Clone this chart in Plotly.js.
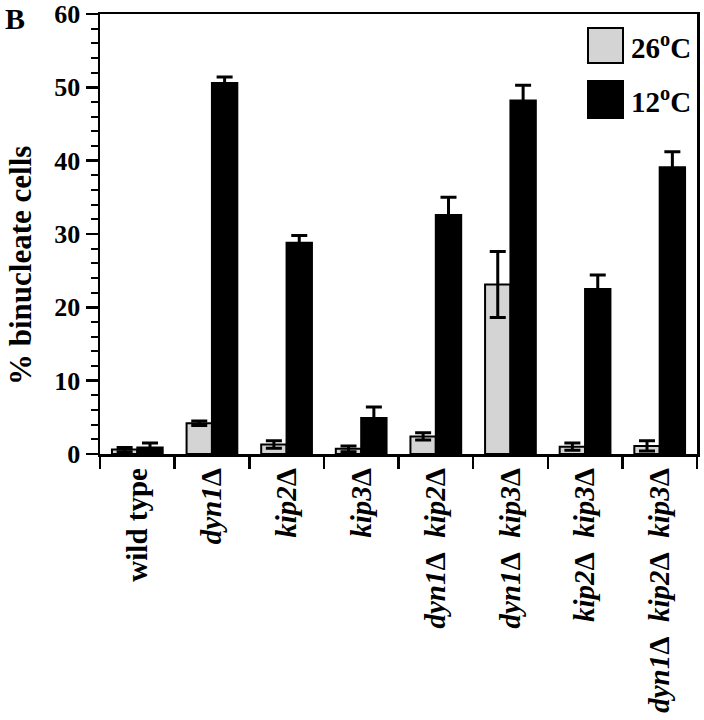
<!DOCTYPE html>
<html>
<head>
<meta charset="utf-8">
<script src="https://cdn.plot.ly/plotly-3.0.1.min.js"></script>
<style>html,body{margin:0;padding:0;background:#fff;}#chart{width:704px;height:720px;}</style>
</head>
<body>
<div id="chart"></div>
<script>
// Data
const categories = ["wild type", "dyn1Δ", "kip2Δ", "kip3Δ", "dyn1Δ kip2Δ", "dyn1Δ kip3Δ", "kip2Δ kip3Δ", "dyn1Δ kip2Δ kip3Δ"];
const tickLabels = [
  "wild type",
  "<i>dyn1</i>Δ",
  "<i>kip2</i>Δ",
  "<i>kip3</i>Δ",
  "<i>dyn1</i>Δ\u00a0\u00a0<i>kip2</i>Δ",
  "<i>dyn1</i>Δ\u00a0\u00a0<i>kip3</i>Δ",
  "<i>kip2</i>Δ\u00a0\u00a0<i>kip3</i>Δ",
  "<i>dyn1</i>Δ\u00a0\u00a0<i>kip2</i>Δ\u00a0\u00a0<i>kip3</i>Δ"
];
const values26 = [0.6, 4.2, 1.3, 0.7, 2.4, 23.1, 1.0, 1.1];
const errors26 = [0.3, 0.3, 0.5, 0.4, 0.5, 4.5, 0.5, 0.7];
const values12 = [0.9, 50.6, 28.8, 4.9, 32.6, 48.2, 22.5, 39.1];
const errors12 = [0.6, 0.8, 1.0, 1.5, 2.4, 2.1, 1.9, 2.1];
const seriesNames = ["26<sup>o</sup>C", "12<sup>o</sup>C"];
const yTickVals = [0, 10, 20, 30, 40, 50, 60];
const yTitle = "% binucleate cells";

const serif = "Liberation Serif, Times New Roman, serif";

const traces = [
  {
    type: "bar", name: seriesNames[0], x: categories, y: values26,
    marker: {color: "#d4d4d4", line: {color: "#000", width: 2}},
    error_y: {type: "data", array: errors26, visible: true, color: "#000", thickness: 3, width: 8}
  },
  {
    type: "bar", name: seriesNames[1], x: categories, y: values12,
    marker: {color: "#000", line: {color: "#000", width: 2}},
    error_y: {type: "data", array: errors12, visible: true, color: "#000", thickness: 3, width: 8}
  }
];

// plot area in pixels: x 100..697, y 14..454
const px = v => (v - 100) / 597;
const py = v => (454 - v) / 440;

const layout = {
  width: 704, height: 720,
  margin: {l: 100, r: 7, t: 14, b: 266},
  paper_bgcolor: "#fff", plot_bgcolor: "#fff",
  showlegend: false,
  barmode: "group", bargap: 0.32, bargroupgap: 0,
  font: {family: serif, color: "#000", weight: "bold"},
  xaxis: {
    type: "category", categoryorder: "array", categoryarray: categories,
    tickvals: categories, ticktext: tickLabels,
    range: [-0.5, 7.5], tickson: "boundaries",
    ticks: "outside", ticklen: 12, tickwidth: 2.5, tickcolor: "#000",
    tickangle: -90, tickfont: {family: serif, size: 29, color: "#000", weight: "bold"},
    showline: true, linecolor: "#000", linewidth: 2.5, mirror: true,
    showgrid: false, zeroline: false, fixedrange: true
  },
  yaxis: {
    range: [0, 60], tickvals: yTickVals, ticktext: yTickVals.map(String),
    ticks: "outside", ticklen: 12, tickwidth: 2.5, tickcolor: "#000",
    minor: {dtick: 2, ticks: "outside", ticklen: 7, tickwidth: 2, tickcolor: "#000", showgrid: false},
    tickfont: {family: serif, size: 26, color: "#000", weight: "bold"},
    showline: true, linecolor: "#000", linewidth: 2.5, mirror: true,
    showgrid: false, zeroline: false, fixedrange: true
  },
  shapes: [
    {type: "rect", xref: "paper", yref: "paper", x0: px(588), x1: px(623), y0: py(63), y1: py(28),
     fillcolor: "#d4d4d4", line: {color: "#000", width: 2}},
    {type: "rect", xref: "paper", yref: "paper", x0: px(588), x1: px(623), y0: py(118), y1: py(81),
     fillcolor: "#000", line: {color: "#000", width: 2}}
  ],
  annotations: [
    {xref: "paper", yref: "paper", x: px(629), y: py(46), xanchor: "left", yanchor: "middle",
     text: seriesNames[0], showarrow: false, font: {family: serif, size: 29, color: "#000", weight: "bold"}},
    {xref: "paper", yref: "paper", x: px(629), y: py(100), xanchor: "left", yanchor: "middle",
     text: seriesNames[1], showarrow: false, font: {family: serif, size: 29, color: "#000", weight: "bold"}},
    {xref: "paper", yref: "paper", x: px(3), y: py(0), xanchor: "left", yanchor: "top",
     text: "B", showarrow: false, font: {family: serif, size: 30, color: "#000", weight: "bold"}},
    {xref: "paper", yref: "paper", x: px(20), y: py(266), xanchor: "center", yanchor: "middle",
     text: yTitle, textangle: -90, showarrow: false, font: {family: serif, size: 31, color: "#000", weight: "bold"}}
  ]
};

Plotly.newPlot("chart", traces, layout, {displayModeBar: false, staticPlot: true});
</script>
</body>
</html>
